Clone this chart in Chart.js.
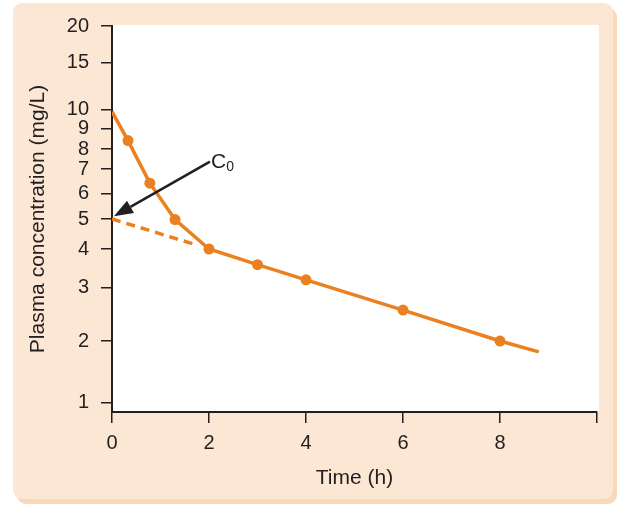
<!DOCTYPE html>
<html>
<head>
<meta charset="utf-8">
<script src="https://cdn.jsdelivr.net/npm/chart.js@4"></script>
<style>
  body { margin: 0; background: #fff; }
  #wrap { position: relative; width: 618px; height: 506px; }
  #panel {
    position: absolute; left: 13px; top: 3px; width: 600px; height: 496px;
    background: #fce6d4; border-radius: 9px; box-shadow: 4px 5px 0 #f9d8bb;
  }
  #chart { position: absolute; left: 0; top: 0; }
</style>
</head>
<body>
<div id="wrap">
  <div id="panel"></div>
  <canvas id="chart" width="618" height="506"></canvas>
</div>
<script>
// Data
const times = [0, 0.33, 0.78, 1.3, 2, 3, 4, 6, 8, 8.8];
const conc = [9.87, 8.4, 6.4, 4.98, 4.0, 3.56, 3.18, 2.53, 2.0, 1.77];
const measured = [false, true, true, true, true, true, true, true, true, false];
// back-extrapolated terminal phase (dashed)
const extraTimes = [0, 1.75];
const extraConc = [5.0, 4.12];
const xTicks = [0, 2, 4, 6, 8, 10];
const yTicks = [1, 2, 3, 4, 5, 6, 7, 8, 9, 10, 15, 20];
// C0 arrow: from label to intercept
const arrowFrom = [2.02, 7.35];
const arrowTo = [0.04, 5.1];

// the printed y axis is not a perfect log scale, so follow its tick spacing
const warpVals = [0.9, 1, 2, 3, 4, 5, 6, 7, 8, 9, 10, 15, 20];
const warpPos = [0, 0.0241, 0.1839, 0.322, 0.4223, 0.5, 0.5666, 0.6295, 0.6813, 0.7339, 0.7842, 0.9049, 1];

const orange = "#ea801f";
const ink = "#231f20";

function warp(v) {
  const lv = Math.log10(v);
  const lk = warpVals.map(Math.log10);
  let i = 0;
  while (i < lk.length - 2 && lv > lk[i + 1]) i++;
  const t = (lv - lk[i]) / (lk[i + 1] - lk[i]);
  return warpPos[i] + t * (warpPos[i + 1] - warpPos[i]);
}
function unwarp(d) {
  const lk = warpVals.map(Math.log10);
  let i = 0;
  while (i < warpPos.length - 2 && d > warpPos[i + 1]) i++;
  const t = (d - warpPos[i]) / (warpPos[i + 1] - warpPos[i]);
  return Math.pow(10, lk[i] + t * (lk[i + 1] - lk[i]));
}

class PrintedLogScale extends Chart.LogarithmicScale {
  getPixelForValue(value) {
    return this.getPixelForDecimal(warp(value));
  }
  getValueForPixel(pixel) {
    return unwarp(this.getDecimalForPixel(pixel));
  }
}
PrintedLogScale.id = "printedLog";
PrintedLogScale.defaults = {};
Chart.register(PrintedLogScale);

const plotBg = {
  id: "plotBg",
  beforeDraw(chart) {
    const { ctx, chartArea: a } = chart;
    ctx.save();
    ctx.fillStyle = "#fff";
    ctx.fillRect(a.left, a.top - 1, a.right - a.left + 2, a.bottom - a.top + 1);
    ctx.restore();
  },
};

const c0Arrow = {
  id: "c0Arrow",
  afterDatasetsDraw(chart) {
    const { ctx, scales } = chart;
    const x1 = scales.x.getPixelForValue(arrowFrom[0]);
    const y1 = scales.y.getPixelForValue(arrowFrom[1]);
    const x2 = scales.x.getPixelForValue(arrowTo[0]);
    const y2 = scales.y.getPixelForValue(arrowTo[1]);
    const ang = Math.atan2(y2 - y1, x2 - x1);
    const headLen = 19, headW = 7;
    const bx = x2 - headLen * Math.cos(ang);
    const by = y2 - headLen * Math.sin(ang);
    ctx.save();
    ctx.strokeStyle = ink;
    ctx.fillStyle = ink;
    ctx.lineWidth = 2.5;
    ctx.beginPath();
    ctx.moveTo(x1, y1);
    ctx.lineTo(bx, by);
    ctx.stroke();
    ctx.beginPath();
    ctx.moveTo(x2, y2);
    ctx.lineTo(bx + headW * Math.sin(ang), by - headW * Math.cos(ang));
    ctx.lineTo(bx - headW * Math.sin(ang), by + headW * Math.cos(ang));
    ctx.closePath();
    ctx.fill();
    // label
    ctx.textBaseline = "alphabetic";
    ctx.font = '21px "Liberation Sans", Arial, sans-serif';
    ctx.fillText("C", x1 + 1, y1 + 6);
    const w = ctx.measureText("C").width;
    ctx.font = '14px "Liberation Sans", Arial, sans-serif';
    ctx.fillText("0", x1 + 1 + w, y1 + 9);
    ctx.restore();
  },
};

const font = { family: '"Liberation Sans", Arial, sans-serif', size: 20 };
const titleFont = { family: '"Liberation Sans", Arial, sans-serif', size: 21 };

new Chart(document.getElementById("chart"), {
  type: "scatter",
  data: {
    datasets: [
      {
        label: "Extrapolated",
        data: extraTimes.map((t, i) => ({ x: t, y: extraConc[i] })),
        showLine: true,
        borderColor: orange,
        borderWidth: 3.5,
        borderDash: [9, 6],
        pointRadius: 0,
        order: 2,
      },
      {
        label: "Plasma concentration",
        data: times.map((t, i) => ({ x: t, y: conc[i] })),
        showLine: true,
        borderColor: orange,
        backgroundColor: orange,
        borderWidth: 3.5,
        pointRadius: (c) => (measured[c.dataIndex] ? 5.5 : 0),
        pointBorderWidth: 0,
        order: 1,
      },
    ],
  },
  options: {
    responsive: false,
    animation: false,
    layout: { padding: { left: 0, right: 21, top: 26, bottom: 0 } },
    plugins: { legend: { display: false }, tooltip: { enabled: false } },
    scales: {
      x: {
        type: "linear",
        min: 0,
        max: 10,
        afterFit: (s) => { s.height = 94; },
        afterBuildTicks: (s) => { s.ticks = xTicks.map((v) => ({ value: v })); },
        ticks: {
          color: ink,
          font,
          padding: 8,
          autoSkip: false,
          maxRotation: 0,
          callback: (v) => (v === 10 ? "" : String(v)),
        },
        grid: { drawOnChartArea: false, drawTicks: true, tickLength: 11, color: ink, lineWidth: 1.5 },
        border: { display: true, color: ink, width: 2 },
        title: { display: true, text: "Time (h)", color: ink, font: titleFont, padding: { top: 0, bottom: 15 } },
      },
      y: {
        type: "printedLog",
        min: 0.9,
        max: 20,
        afterFit: (s) => { s.width = 112; },
        afterBuildTicks: (s) => { s.ticks = yTicks.map((v) => ({ value: v })); },
        ticks: { color: ink, font, padding: 12, autoSkip: false, callback: (v) => String(v) },
        grid: { drawOnChartArea: false, drawTicks: true, tickLength: 11, color: ink, lineWidth: 1.5 },
        border: { display: true, color: ink, width: 2 },
        title: {
          display: true,
          text: "Plasma concentration (mg/L)",
          color: ink,
          font: titleFont,
          padding: { top: 26, bottom: 0 },
        },
      },
    },
  },
  plugins: [plotBg, c0Arrow],
});
</script>
</body>
</html>
